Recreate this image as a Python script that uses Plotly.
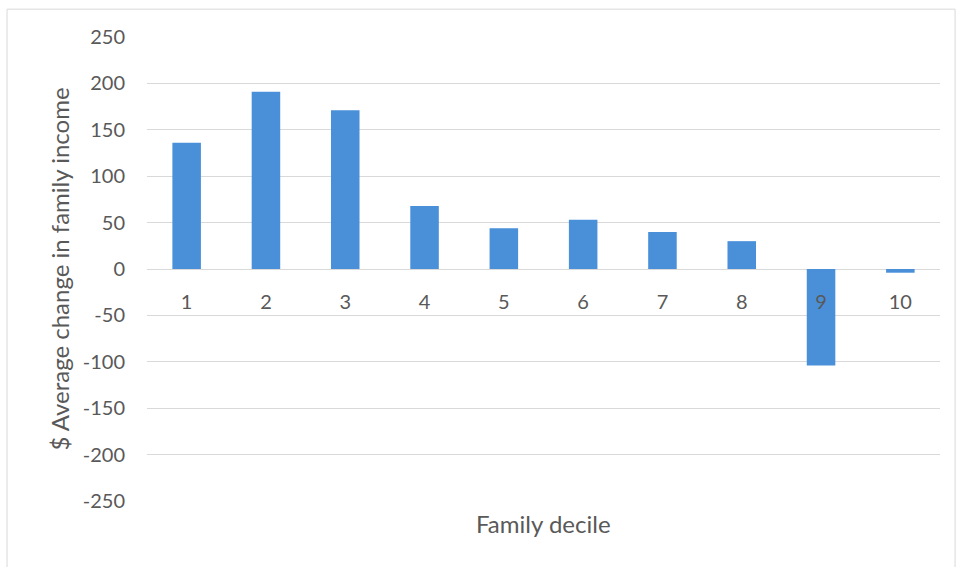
import plotly.graph_objects as go

deciles = ["1", "2", "3", "4", "5", "6", "7", "8", "9", "10"]
changes = [136, 191, 171, 68, 44, 53, 40, 30, -104, -4]
y_ticks = [-250, -200, -150, -100, -50, 0, 50, 100, 150, 200, 250]
y_labels = [str(v) for v in y_ticks]

FONT = "Lato, Noto Sans, sans-serif"
GRAY = "#595959"
GRID = "#d9d9d9"

fig = go.Figure(go.Bar(x=deciles, y=changes, marker_color="#4A90D9",
                       marker_line_width=0, width=0.36))

fig.update_layout(
    width=956, height=567,
    margin=dict(l=147, r=16, t=37, b=66),
    paper_bgcolor="white", plot_bgcolor="white",
    showlegend=False,
    font=dict(family=FONT, color=GRAY, size=20),
    xaxis=dict(type="category", anchor="free", position=0.5,
               showline=False, showgrid=False, ticks="",
               ticklabelstandoff=19,
               tickfont=dict(size=20, color=GRAY)),
    yaxis=dict(range=[-250, 250], tickvals=y_ticks, ticktext=y_labels,
               showgrid=True, gridcolor=GRID, gridwidth=1.3,
               zeroline=True, zerolinecolor=GRID, zerolinewidth=1.3,
               ticks="", ticklabelstandoff=21,
               tickfont=dict(size=20, color=GRAY),
               title=dict(text="$ Average change in family income",
                          font=dict(size=24, color=GRAY), standoff=6)),
    annotations=[dict(text="Family decile", xref="paper", yref="paper",
                      x=0.5, y=-0.048, yanchor="middle", showarrow=False,
                      font=dict(size=24, color=GRAY))],
    shapes=[dict(type="rect", xref="paper", yref="paper",
                 x0=-0.1765, x1=1.019, y0=-0.15, y1=1.060,
                 line=dict(color=GRID, width=1), layer="below")],
)

fig.write_html("out.html")
